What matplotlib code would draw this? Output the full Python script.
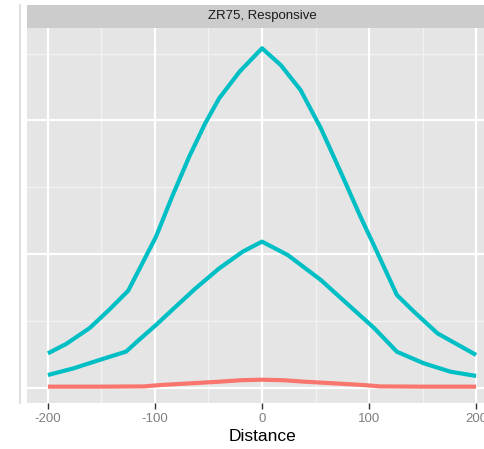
import matplotlib
matplotlib.use("Agg")
import matplotlib.pyplot as plt
from matplotlib.lines import Line2D

# values (y axis is cropped, units arbitrary)
x_high = [-200, -183, -161, -143, -125, -115, -99, -84, -68, -53, -40, -21, 0,
          17.5, 36, 55, 74, 92, 108, 126, 142, 164, 200]
y_high = [0.259, 0.329, 0.448, 0.583, 0.727, 0.882, 1.131, 1.43, 1.729, 1.979, 2.165, 2.364, 2.539,
          2.414, 2.227, 1.941, 1.605, 1.28, 1.007, 0.695, 0.57, 0.408, 0.247]

x_mid = [-200, -176, -152, -127, -115, -99, -84, -62, -40, -18, 0,
         24, 55, 86, 105, 126, 151, 176, 200]
y_mid = [0.097, 0.147, 0.209, 0.272, 0.359, 0.471, 0.583, 0.745, 0.894, 1.019, 1.094,
         0.994, 0.807, 0.583, 0.446, 0.271, 0.185, 0.122, 0.09]

x_low = [-200, -150, -110, -95, -67, -40, -20, 0, 20, 40, 67, 95, 110, 150, 200]
y_low = [0.010, 0.010, 0.012, 0.022, 0.035, 0.047, 0.058, 0.062, 0.058, 0.047, 0.035, 0.022, 0.012, 0.010, 0.010]

x_ticks = [-200, -100, 0, 100, 200]
x_minor = [-150, -50, 50, 150]
y_major = [0, 1, 2]
y_minor = [0.5, 1.5, 2.5]

strip_title = "ZR75, Responsive"

W, H = 484, 449
fig = plt.figure(figsize=(W / 100, H / 100), dpi=100)
fig.patch.set_facecolor("white")

left, right = 26.5, 497.5
top, bottom = 28, 403
ax = fig.add_axes([left / W, (H - bottom) / H, (right - left) / W, (bottom - top) / H])
ax.set_facecolor("#E5E5E5")

for v in x_minor:
    ax.axvline(v, color="#F2F2F2", lw=1.0, zorder=0)
for v in y_minor:
    ax.axhline(v, color="#F2F2F2", lw=1.0, zorder=0)
for v in x_ticks:
    ax.axvline(v, color="white", lw=1.6, zorder=0)
for v in y_major:
    ax.axhline(v, color="white", lw=1.6, zorder=0)

ax.plot(x_low, y_low, color="#F8766D", lw=3, solid_capstyle="butt", zorder=2)
ax.plot(x_mid, y_mid, color="#00BFC4", lw=3, solid_capstyle="butt", zorder=3)
ax.plot(x_high, y_high, color="#00BFC4", lw=3, solid_capstyle="butt", zorder=3)

ax.set_xlim(-220, 220)
ax.set_ylim(-(bottom - 388) / 133.8, (388 - top) / 133.8)
ax.set_xticks(x_ticks)
ax.set_xticklabels([str(t) for t in x_ticks], fontfamily="Liberation Sans",
                   fontsize=9.5, color="#7F7F7F")
ax.set_yticks([])
ax.tick_params(axis="x", length=4, width=1, color="#333333", pad=3)
for s in ax.spines.values():
    s.set_visible(False)
ax.set_xlabel("Distance", fontfamily="Liberation Sans", fontsize=12.5, labelpad=3)

# facet strip
strip = fig.add_axes([left / W, (H - top) / H, (right - left) / W, 23 / H])
strip.set_facecolor("#CCCCCC")
strip.set_xticks([])
strip.set_yticks([])
for s in strip.spines.values():
    s.set_visible(False)
strip.text(0.5, 0.5, strip_title, ha="center", va="center", transform=strip.transAxes,
           fontfamily="Liberation Sans", fontsize=9.5, color="#1A1A1A")

# edge of the neighbouring panel that was cropped
fig.add_artist(Line2D([19.5 / W, 19.5 / W], [(H - 403) / H, (H - 5) / H],
                      transform=fig.transFigure, color="#E0E0E0", lw=1.5))

plt.savefig("out.png", dpi=100)
